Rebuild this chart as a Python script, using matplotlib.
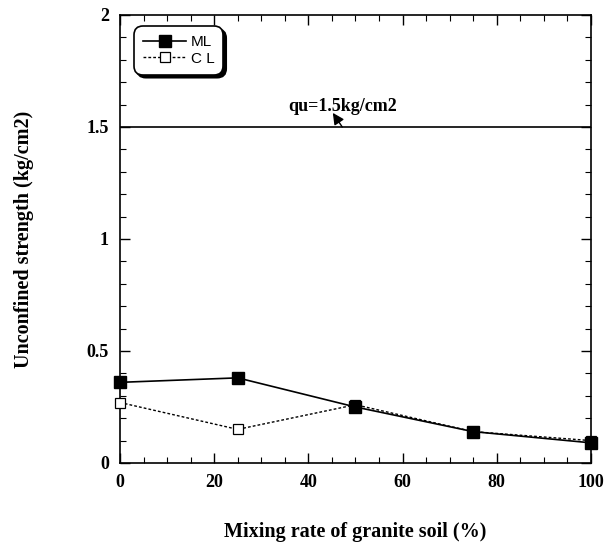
import matplotlib
matplotlib.use("Agg")
import matplotlib.pyplot as plt
from matplotlib.ticker import MultipleLocator

mixing_rate = [0, 25, 50, 75, 100]
ml_strength = [0.36, 0.38, 0.25, 0.14, 0.09]
cl_strength = [0.27, 0.15, 0.26, 0.14, 0.10]
qu_limit = 1.5

serif = ["Liberation Serif", "DejaVu Serif"]

fig = plt.figure(figsize=(6.06, 5.47), dpi=100)
ax = fig.add_axes([0.198, 0.1536, 0.777, 0.819])

ax.plot(mixing_rate, ml_strength, color="black", lw=1.2, marker="s",
        ms=8, mfc="black", mec="black", label="ML", clip_on=False, zorder=4)
ax.plot(mixing_rate, cl_strength, color="black", lw=1.0, ls=(0, (2, 1.5)),
        marker="s", ms=7, mfc="white", mec="black", mew=0.9, label="C L",
        clip_on=False, zorder=3)

ax.axhline(qu_limit, color="black", lw=1.2)
ax.text(47.3, 1.59, "qu=1.5kg/cm2", fontsize=13, fontweight="bold",
        family=serif, ha="center", va="center")
ax.annotate("", xy=(45.2, 1.563), xytext=(47.2, 1.5),
            arrowprops=dict(arrowstyle="-|>", color="black", lw=1.0,
                            mutation_scale=17, shrinkA=0, shrinkB=0))

ax.set_xlim(0, 100)
ax.set_ylim(0, 2)
ax.xaxis.set_major_locator(MultipleLocator(20))
ax.xaxis.set_minor_locator(MultipleLocator(5))
ax.yaxis.set_minor_locator(MultipleLocator(0.1))
ax.set_yticks([0, 0.5, 1, 1.5, 2])
ax.set_yticklabels(["0", "0.5", "1", "1.5", "2"])
ax.tick_params(which="both", direction="in", top=True, right=True)
ax.tick_params(which="major", length=7, width=1.0, pad=8)
ax.tick_params(which="minor", length=4, width=0.8)
for lab in ax.get_xticklabels() + ax.get_yticklabels():
    lab.set_fontfamily(serif)
    lab.set_fontweight("bold")
    lab.set_fontsize(13)
for s in ax.spines.values():
    s.set_linewidth(1.2)

ax.set_xlabel("Mixing rate of granite soil (%)", family=serif,
              fontweight="bold", fontsize=14.5, labelpad=22)
ax.set_ylabel("Unconfined strength (kg/cm2)", family=serif,
              fontweight="bold", fontsize=14.5, labelpad=38)

leg = ax.legend(loc="upper left", bbox_to_anchor=(0.02, 0.985),
                prop={"family": "Liberation Sans", "size": 11},
                handlelength=2.8, handletextpad=0.3, borderpad=0.4,
                labelspacing=0.15, fancybox=True,
                shadow={"color": "black", "alpha": 1},
                edgecolor="black", framealpha=1)
leg.get_frame().set_linewidth(1.2)
leg.get_frame().set_boxstyle("round,pad=0.2,rounding_size=0.6")

fig.savefig("out.png", dpi=100)
